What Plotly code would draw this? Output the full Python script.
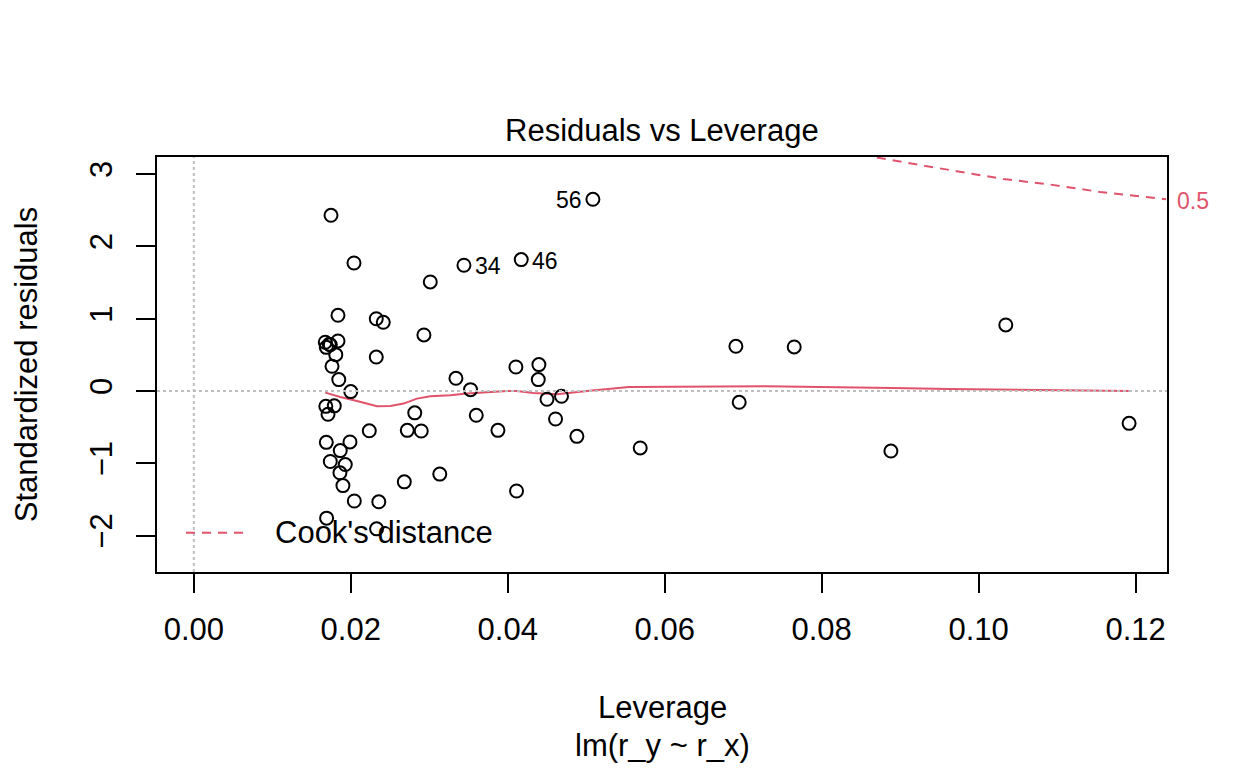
import plotly.graph_objects as go

# leverage and standardized residuals
lev = [0.05085, 0.03442, 0.04172, 0.01748, 0.02041, 0.03013, 0.01837, 0.02325,
       0.02414, 0.02932, 0.01675, 0.01688, 0.01726, 0.01739, 0.01837, 0.01809,
       0.02325, 0.01761, 0.01847, 0.02000, 0.01682, 0.01790, 0.01710, 0.02815,
       0.02236, 0.02720, 0.02898, 0.01688, 0.01990, 0.01866, 0.01739, 0.01930,
       0.01862, 0.01900, 0.03134, 0.02682, 0.02045, 0.02357, 0.01692, 0.02329,
       0.04104, 0.04397, 0.04389, 0.03340, 0.03526, 0.04500, 0.04685, 0.03599,
       0.04609, 0.03875, 0.04881, 0.04112, 0.06907, 0.07650, 0.10346, 0.06949,
       0.05688, 0.08882, 0.11917]
std_res = [2.651, 1.739, 1.817, 2.430, 1.770, 1.508, 1.047, 0.999,
           0.950, 0.775, 0.674, 0.604, 0.646, 0.639, 0.692, 0.503,
           0.470, 0.342, 0.158, -0.008, -0.212, -0.205, -0.322, -0.302,
           -0.550, -0.544, -0.553, -0.710, -0.705, -0.824, -0.975, -1.017,
           -1.131, -1.308, -1.149, -1.256, -1.521, -1.532, -1.758, -1.906,
           0.332, 0.365, 0.158, 0.176, 0.019, -0.115, -0.073, -0.336,
           -0.387, -0.544, -0.627, -1.383, 0.618, 0.609, 0.913, -0.156,
           -0.788, -0.830, -0.447]

# labelled observations: (index into the arrays above, label, side)
labelled = [(0, "56", "left"), (1, "34", "right"), (2, "46", "right")]

# red smoother
smooth_x = [0.01675, 0.01866, 0.02079, 0.02334, 0.02503, 0.02673, 0.02843, 0.03013,
            0.03268, 0.03480, 0.03990, 0.04117, 0.04329, 0.04627, 0.05009, 0.05433,
            0.05543, 0.07293, 0.08274, 0.08911, 0.09611, 0.10363, 0.11140, 0.11912]
smooth_y = [-0.022, -0.083, -0.138, -0.212, -0.207, -0.174, -0.105, -0.073,
            -0.059, -0.036, 0.000, 0.000, -0.028, -0.046, 0.000, 0.047,
            0.055, 0.065, 0.055, 0.041, 0.028, 0.019, 0.006, 0.000]

# Cook's distance 0.5 contour
cook_x = [0.08703, 0.09127, 0.09722, 0.10316, 0.10911, 0.11548, 0.12143, 0.12389]
cook_y = [3.228, 3.145, 3.039, 2.932, 2.855, 2.753, 2.684, 2.652]
cook_level = "0.5"

x_ticks = [0.00, 0.02, 0.04, 0.06, 0.08, 0.10, 0.12]
y_ticks = [-2, -1, 0, 1, 2, 3]

RED = "#DF536B"
FONT = "Liberation Sans, Arial, sans-serif"
FS = 31

fig = go.Figure()

fig.add_hline(y=0, line=dict(color="#BEBEBE", width=2, dash="dot"))
fig.add_vline(x=0, line=dict(color="#BEBEBE", width=2, dash="dot"))

fig.add_trace(go.Scatter(x=cook_x, y=cook_y, mode="lines",
                         line=dict(color=RED, width=2, dash="9px,7px"),
                         hoverinfo="skip", showlegend=False))
fig.add_trace(go.Scatter(x=smooth_x, y=smooth_y, mode="lines",
                         line=dict(color=RED, width=2), showlegend=False))
fig.add_trace(go.Scatter(x=lev, y=std_res, mode="markers",
                         marker=dict(symbol="circle-open", size=13, color="black",
                                     line=dict(width=2, color="black")),
                         showlegend=False))

for i, lab, side in labelled:
    fig.add_annotation(x=lev[i], y=std_res[i], text=lab, showarrow=False,
                       xanchor="right" if side == "left" else "left",
                       xshift=-9 if side == "left" else 9, yshift=-1,
                       font=dict(family=FONT, size=23, color="black"))

# contour level label outside the right edge
fig.add_annotation(x=1.0, xref="paper", y=cook_y[-1], text=cook_level,
                   showarrow=False, xanchor="left", xshift=8, yshift=-2,
                   font=dict(family=FONT, size=23, color=RED))

# title, x label and subtitle
fig.add_annotation(x=0.5, xref="paper", y=1, yref="paper", text="Residuals vs Leverage",
                   showarrow=False, yanchor="middle", yshift=27,
                   font=dict(family=FONT, size=FS, color="black"))
fig.add_annotation(x=0.5, xref="paper", y=0, yref="paper", text="Leverage",
                   showarrow=False, yanchor="middle", yshift=-135,
                   font=dict(family=FONT, size=FS, color="black"))
fig.add_annotation(x=0.5, xref="paper", y=0, yref="paper", text="lm(r_y ~ r_x)",
                   showarrow=False, yanchor="middle", yshift=-173,
                   font=dict(family=FONT, size=FS, color="black"))

# legend (no box)
fig.add_shape(type="line", xref="paper", yref="paper", x0=0.0287, x1=0.0851,
              y0=0.0947, y1=0.0947, line=dict(color=RED, width=2, dash="9px,7px"))
fig.add_annotation(x=0.1149, xref="paper", y=0.0947, yref="paper", text="Cook's distance",
                   showarrow=False, xanchor="left", yanchor="middle",
                   font=dict(family=FONT, size=FS, color="black"))

fig.update_xaxes(range=[-0.00469, 0.1240], tickvals=x_ticks, tickformat=".2f",
                 showgrid=False, zeroline=False, showline=True, mirror=True,
                 linecolor="black", linewidth=2, ticks="outside", ticklen=19,
                 tickwidth=2, tickcolor="black", ticklabelstandoff=10,
                 tickfont=dict(family=FONT, size=FS, color="black"))
fig.update_yaxes(range=[-2.503, 3.236], tickvals=y_ticks, tickangle=-90,
                 showgrid=False, zeroline=False, showline=True, mirror=True,
                 linecolor="black", linewidth=2, ticks="outside", ticklen=19,
                 tickwidth=2, tickcolor="black", ticklabelstandoff=12,
                 tickfont=dict(family=FONT, size=FS, color="black"),
                 title=dict(text="Standardized residuals", standoff=37,
                            font=dict(family=FONT, size=FS, color="black")))

fig.update_layout(width=1248, height=768, plot_bgcolor="white", paper_bgcolor="white",
                  margin=dict(l=157, r=81, t=157, b=196), showlegend=False)

# drop the default 8px body margin so the full figure fits the window
fig.write_html("out.html", config={"displayModeBar": False},
               post_script="document.body.style.margin='0px';")
